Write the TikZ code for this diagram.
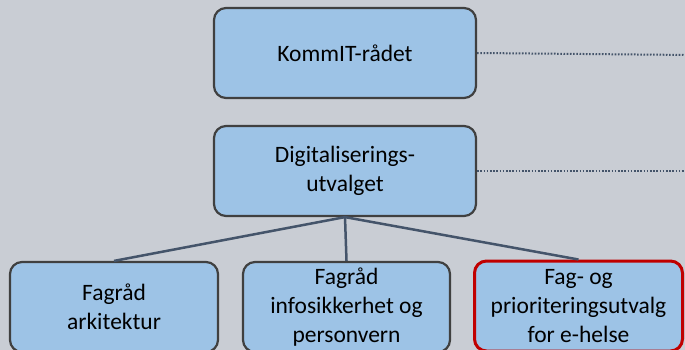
\documentclass[tikz,border=0pt]{standalone}
\usepackage{fontspec}
\setmainfont{Carlito}
\definecolor{bgGray}{HTML}{C9CDD4}
\definecolor{boxBlue}{HTML}{9DC3E6}
\definecolor{boxEdge}{HTML}{404040}
\definecolor{lineSlate}{HTML}{44546A}
\definecolor{markRed}{HTML}{C00000}
\begin{document}
\begin{tikzpicture}[x=1pt, y=-1pt,
    box/.style={draw=boxEdge, line width=2.2pt, fill=boxBlue, rounded corners=12pt,
        minimum height=90pt, align=center, inner sep=2pt,
        font=\fontsize{23.5}{29}\selectfont},
    link/.style={draw=lineSlate, line width=2.5pt},
    dotlink/.style={draw=lineSlate, line width=2pt, dash pattern=on 1.6pt off 1.6pt}]
    % Background and frame
    \fill[bgGray] (0,0) rectangle (685,350);
    \useasboundingbox (0,0) rectangle (685,350);
    \clip (0,0) rectangle (685,350);

    % Top boxes
    \node[box, minimum width=262pt] (kommit) at (345,53) {KommIT-rådet};
    \node[box, minimum width=262pt] (digi) at (345,171) {Digitaliserings-\\utvalget};
    \coordinate (kommitEnd) at (690,55);
    \coordinate (digiEnd) at (690,171);

    % Bottom boxes
    \node[box, minimum width=208pt] (arkitektur) at (114,307) {Fagråd\\arkitektur};
    \node[box, minimum width=207pt] (infosik) at (346.5,307) {Fagråd\\infosikkerhet og\\personvern};
    \node[box, minimum width=208pt, draw=markRed, line width=3pt] (ehelse) at (578.5,306) {Fag- og\\prioriteringsutvalg\\for e-helse};

    % Connectors
    \draw[link] (digi.south) -- (arkitektur.north);
    \draw[link] (digi.south) -- (infosik.north);
    \draw[link] (digi.south) -- (ehelse.north);
    \draw[dotlink] (kommit.east) -- (kommitEnd);
    \draw[dotlink] (digi.east) -- (digiEnd);
\end{tikzpicture}
\end{document}
